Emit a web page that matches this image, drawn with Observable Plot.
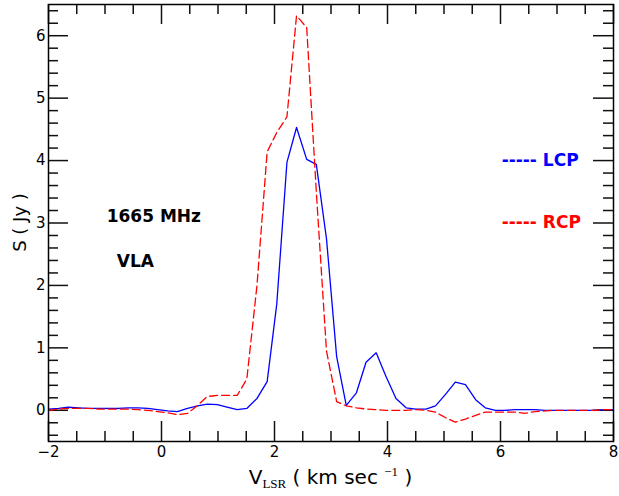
<!DOCTYPE html>
<html><head><meta charset="utf-8">
<script src="https://cdn.jsdelivr.net/npm/d3@7"></script>
<script src="https://cdn.jsdelivr.net/npm/@observablehq/plot@0.6"></script>
<style>body{margin:0;background:#fff}</style>
</head><body><div id="chart"></div>
<script>
const velocity = [-2.00,-1.82,-1.65,-1.47,-1.30,-1.12,-0.95,-0.77,-0.59,-0.42,-0.24,-0.07,0.11,0.28,0.46,0.64,0.81,0.99,1.16,1.34,1.51,1.69,1.87,2.04,2.22,2.39,2.57,2.74,2.92,3.10,3.27,3.45,3.62,3.80,3.97,4.15,4.33,4.50,4.68,4.85,5.03,5.20,5.38,5.56,5.73,5.91,6.08,6.26,6.43,6.61,6.79,6.96,7.14,7.31,7.49,7.66,7.84,8.00];
const lcp = [0.02,0.03,0.05,0.04,0.03,0.03,0.03,0.03,0.04,0.04,0.03,0.01,-0.01,-0.02,0.03,0.07,0.10,0.09,0.05,0.01,0.03,0.19,0.46,1.70,3.97,4.53,4.02,3.94,2.75,0.86,0.08,0.28,0.77,0.92,0.55,0.19,0.04,0.02,0.02,0.07,0.26,0.45,0.41,0.17,0.04,0.00,0.00,0.01,0.01,0.01,0.00,0.00,0.00,0.00,0.00,0.00,0.01,0.01];
const rcp = [0.00,0.02,0.03,0.03,0.03,0.02,0.02,0.02,0.02,0.01,0.00,-0.02,-0.04,-0.07,-0.05,0.08,0.22,0.24,0.24,0.24,0.50,2.00,4.14,4.45,4.70,6.32,6.13,3.50,0.95,0.14,0.07,0.04,0.02,0.01,0.00,0.00,0.00,0.01,0.00,-0.03,-0.12,-0.19,-0.14,-0.08,-0.03,-0.03,-0.03,-0.03,-0.05,-0.02,-0.01,0.00,0.00,0.00,0.00,0.00,0.01,0.01];

const xMajorTicks = [-2, 0, 2, 4, 6, 8];
const yMajorTicks = [0, 1, 2, 3, 4, 5, 6];
const xMinorTicks = [-1.5,-1,-0.5,0.5,1,1.5,2.5,3,3.5,4.5,5,5.5,6.5,7,7.5];
const yMinorTicks = [-0.4,-0.2,0.2,0.4,0.6,0.8,1.2,1.4,1.6,1.8,2.2,2.4,2.6,2.8,3.2,3.4,3.6,3.8,4.2,4.4,4.6,4.8,5.2,5.4,5.6,5.8,6.2,6.4];

const notes = [
  {v: -0.97, s: 3.10, text: "1665 MHz", color: "black"},
  {v: -0.79, s: 2.38, text: "VLA", color: "black"}
];
const legendItems = [
  {v: 6.02, s: 4.0, text: "----- LCP", color: "blue"},
  {v: 6.02, s: 3.0, text: "----- RCP", color: "red"}
];

const data = velocity.map((v, i) => ({v, lcp: lcp[i], rcp: rcp[i]}));

const W = 619, H = 496, mL = 48, mR = 6, mT = 4, mB = 55;
const fh = H - mT - mB, fw = W - mL - mR;
const major = 20, minor = 10;
const tk = {stroke: "#111", strokeWidth: 1.5};

const chart = Plot.plot({
  width: W, height: H,
  marginLeft: mL, marginRight: mR, marginTop: mT, marginBottom: mB,
  style: {fontFamily: "DejaVu Sans", fontSize: "15px", background: "white", color: "black"},
  x: {domain: [-2, 8]},
  y: {domain: [-0.5, 6.5]},
  marks: [
    Plot.ruleX(xMajorTicks, {...tk, insetTop: fh - major}),
    Plot.ruleX(xMajorTicks, {...tk, insetBottom: fh - major}),
    Plot.ruleX(xMinorTicks, {...tk, insetTop: fh - minor}),
    Plot.ruleX(xMinorTicks, {...tk, insetBottom: fh - minor}),
    Plot.ruleY(yMajorTicks, {...tk, insetRight: fw - major}),
    Plot.ruleY(yMajorTicks, {...tk, insetLeft: fw - major}),
    Plot.ruleY(yMinorTicks, {...tk, insetRight: fw - minor}),
    Plot.ruleY(yMinorTicks, {...tk, insetLeft: fw - minor}),
    Plot.line(data, {x: "v", y: "lcp", stroke: "blue", strokeWidth: 1.3}),
    Plot.line(data, {x: "v", y: "rcp", stroke: "red", strokeWidth: 1.3, strokeDasharray: "8,4"}),
    Plot.frame({stroke: "black", strokeWidth: 1.5}),
    Plot.axisX({ticks: xMajorTicks, tickSize: 0, tickPadding: 5, tickFormat: d3.format("d"), label: null, fontSize: 15}),
    Plot.axisY({ticks: yMajorTicks, tickSize: 0, tickPadding: 3, tickFormat: d3.format("d"), label: null, fontSize: 15}),
    Plot.text(notes, {x: "v", y: "s", text: "text", fill: "color", textAnchor: "start", fontSize: 17, fontWeight: "bold"}),
    Plot.text(legendItems, {x: "v", y: "s", text: "text", fill: "color", textAnchor: "start", fontSize: 17, fontWeight: "bold"})
  ]
});

const svg = d3.select(chart);
const cx = (mL + W - mR) / 2, cy = (mT + H - mB) / 2;
svg.append("text")
  .attr("transform", `translate(19,${cy}) rotate(-90)`)
  .attr("text-anchor", "middle").attr("dominant-baseline", "central")
  .attr("font-family", "DejaVu Sans").attr("font-size", 18).attr("fill", "black")
  .text("S ( Jy )");
const xt = svg.append("text")
  .attr("x", cx).attr("y", 484)
  .attr("text-anchor", "middle")
  .attr("font-family", "DejaVu Sans").attr("font-size", 20).attr("fill", "black");
xt.append("tspan").text("V");
xt.append("tspan").attr("font-family", "Liberation Serif").attr("font-size", 13).attr("dy", 4).text("LSR");
xt.append("tspan").attr("dy", -4).text("\u00a0( km sec\u00a0");
xt.append("tspan").attr("font-family", "Liberation Serif").attr("font-size", 13).attr("dy", -8).text("\u22121");
xt.append("tspan").attr("dy", 8).text("\u00a0)");

document.getElementById("chart").appendChild(chart);
</script>
</body></html>
